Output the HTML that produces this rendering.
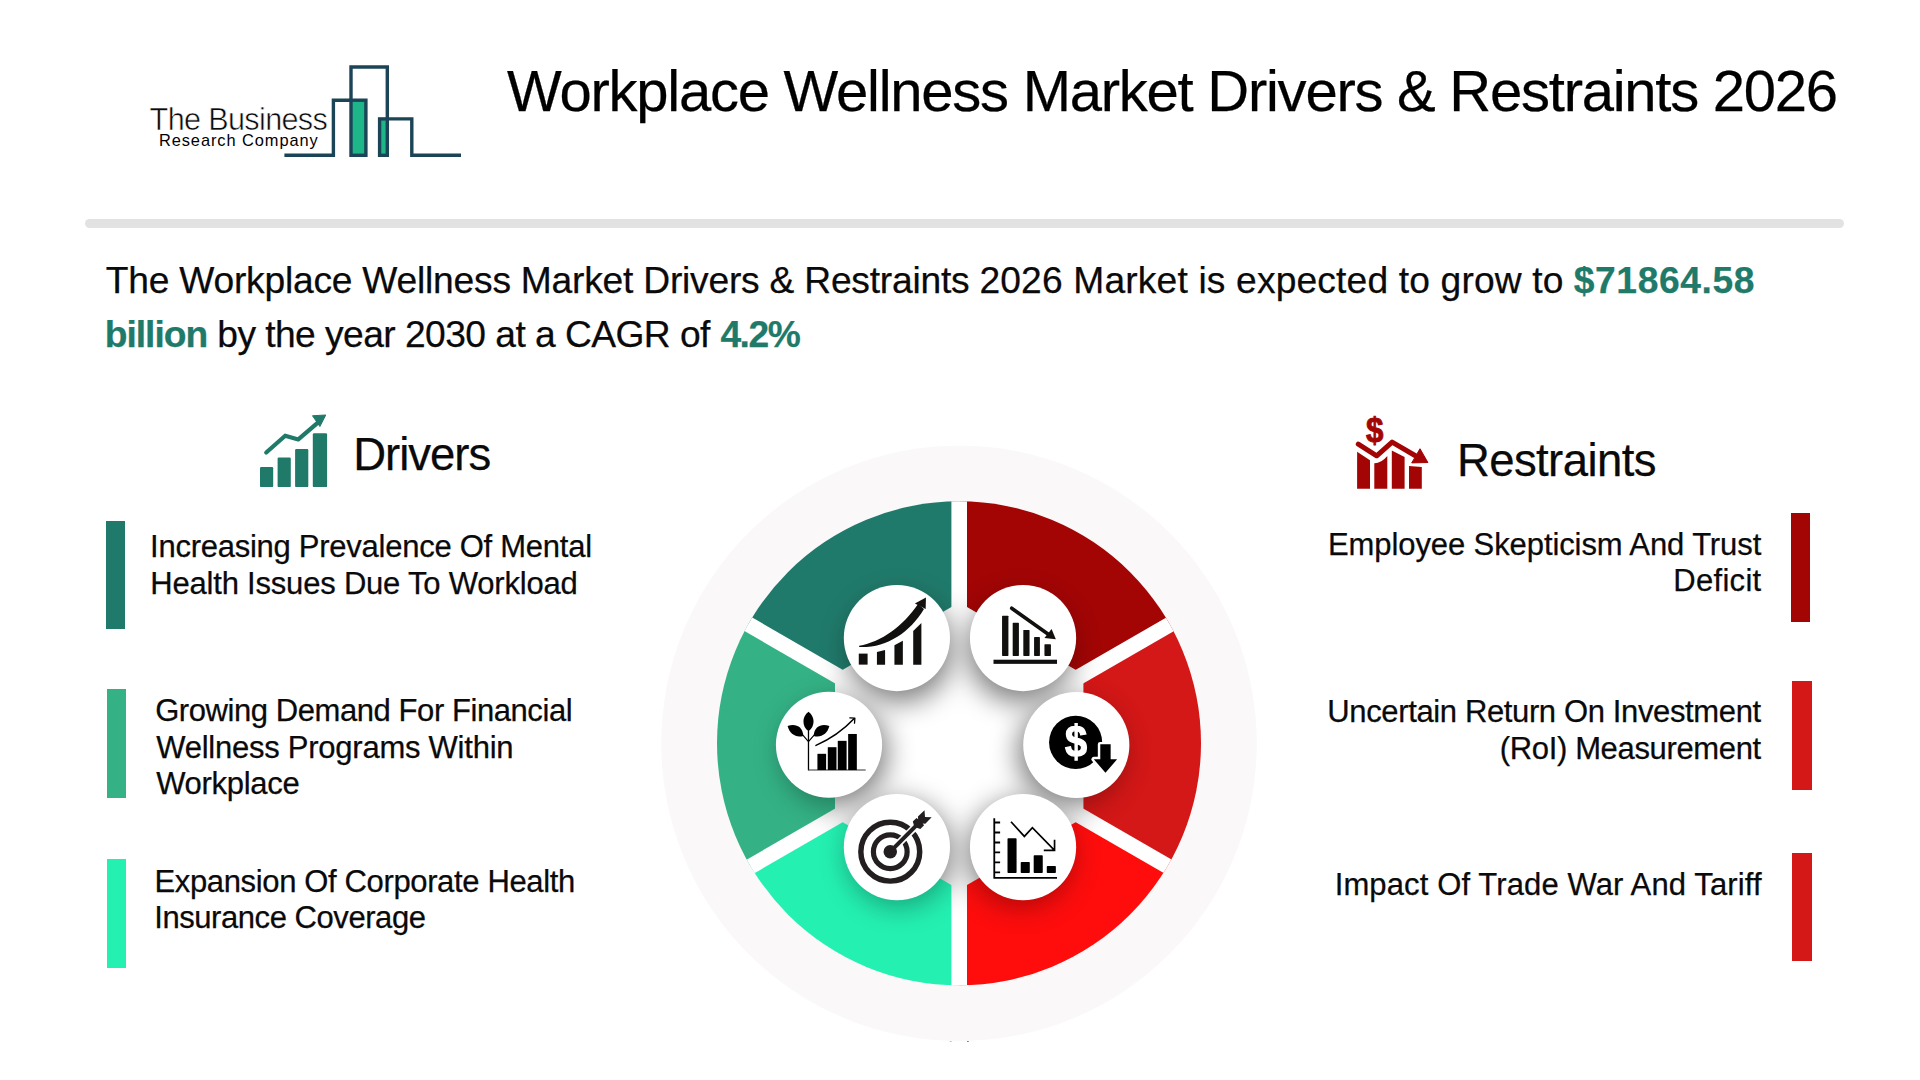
<!DOCTYPE html>
<html lang="en">
<head>
<meta charset="utf-8">
<title>Workplace Wellness Market Drivers &amp; Restraints 2026</title>
<style>
html,body{margin:0;padding:0;background:#fff}
body{width:1920px;height:1080px;position:relative;overflow:hidden;font-family:"Liberation Sans",sans-serif}
h1,h2,p,ul,li{margin:0;padding:0;list-style:none}
.t{position:absolute;display:block;white-space:pre;line-height:1;font-weight:400;-webkit-text-stroke:.25px currentColor}
.t b{font-weight:700}
.rule{position:absolute;left:85px;top:218.7px;width:1759px;height:9.4px;border-radius:5px;background:#e2e2e2}
.bar{position:absolute;display:block;width:19.2px;height:108.6px}
svg{position:absolute;left:0;top:0;overflow:visible}
</style>
</head>
<body>
<header>
<svg width="1920" height="200" viewBox="0 0 1920 200">
<g fill="none" stroke="#1b4557" stroke-width="3.4" stroke-linejoin="miter" stroke-linecap="butt">
<rect x="351" y="100.2" width="14.9" height="55.1" fill="#1eb589"/>
<rect x="379.6" y="118.9" width="7.7" height="36.4" fill="#1eb589"/>
<path d="M284.4 155.3H333.4V100.2H351"/>
<path d="M351 100.2V67H387.3V118.9"/>
<path d="M387.3 118.9H411.8V155.3H461"/>
</g>
<text x="149.6" y="129.9" font-family="'Liberation Sans',sans-serif" font-size="30.6" fill="#0a0a0a" stroke="#fff" stroke-width=".55" textLength="178.2" lengthAdjust="spacing">The Business</text>
<text x="158.9" y="146.25" font-family="'Liberation Sans',sans-serif" font-size="16.4" fill="#000" textLength="158.9" lengthAdjust="spacing">Research Company</text>
</svg>

<h1 class="t" style="left:507.00px;top:61.90px;font-size:58px;letter-spacing:-1.249px;color:#000">Workplace Wellness Market Drivers &amp; Restraints 2026</h1>
</header>
<div class="rule"></div>
<p class="summary">
<span class="t" style="left:105.75px;top:261.51px;font-size:37.2px;letter-spacing:-0.223px;color:#0a0a0a">The Workplace Wellness Market Drivers &amp; Restraints</span>
<span class="t" style="left:979.45px;top:261.51px;font-size:37.2px;letter-spacing:0.161px;color:#0a0a0a">2026 Market is expected to grow to</span>
<span class="t" style="left:1573.75px;top:261.51px;font-size:37.2px;letter-spacing:0.613px;color:#0a0a0a"><b style="color:#1f7a6a">$71864.58</b></span>
<span class="t" style="left:104.65px;top:316.11px;font-size:37.2px;letter-spacing:-0.967px;color:#0a0a0a"><b style="color:#1f7a6a">billion</b></span>
<span class="t" style="left:217.25px;top:316.11px;font-size:37.2px;letter-spacing:-0.550px;color:#0a0a0a">by the year 2030 at a CAGR of</span>
<span class="t" style="left:720.40px;top:316.11px;font-size:37.2px;letter-spacing:-1.467px;color:#0a0a0a"><b style="color:#1f7a6a">4.2%</b></span>
</p>
<svg width="1920" height="1080" viewBox="0 0 1920 1080">
<g fill="#207a6a" stroke="#207a6a">
<g stroke="none"><rect x="260" y="467.1" width="13.2" height="20" rx="1.2"/><rect x="277.6" y="457.6" width="13.2" height="29.5" rx="1.2"/>
<rect x="295.1" y="449.1" width="13.2" height="38" rx="1.2"/><rect x="312.8" y="433.2" width="14.3" height="53.9" rx="1.2"/></g>
<path d="M266.25 452.5L285.2 435.7L298.3 439.4L318.75 421.9" fill="none" stroke-width="4.2" stroke-linecap="round" stroke-linejoin="round"/>
<path d="M312.5 415.75L325.75 415L319.9 426.5Z" stroke-width="1" stroke-linejoin="round"/>
</g>
<g fill="#a30505" stroke="#a30505">
<g stroke="none"><path d="M1357.1 451.8L1370 460.2V488.75H1357.1Z"/><path d="M1374.3 463.3Q1381 463.5 1387.3 456V488.75H1374.3Z"/>
<path d="M1391.8 450.4L1404.6 457.1V488.75H1391.8Z"/><path d="M1409 466L1421.8 467.1V488.75H1409Z"/></g>
<path d="M1358.3 444.2L1376.7 455.8L1392.1 442.1L1415 455.5" fill="none" stroke-width="5" stroke-linecap="round" stroke-linejoin="round"/>
<path d="M1420 448.75L1427.9 462.5L1411.7 462.9Z" stroke-width="1" stroke-linejoin="round"/>
<text transform="translate(1374.7 441.8) scale(.88 1)" x="0" y="0" font-family="'Liberation Sans',sans-serif" font-weight="700" font-size="35.5" text-anchor="middle" stroke="#a30505" stroke-width="1">$</text>
</g>
</svg>

<section class="drivers">
<h2 class="t" style="left:353.20px;top:431.98px;font-size:45.5px;letter-spacing:-1.000px;color:#0a0a0a">Drivers</h2>
<ul>
<li><i class="bar" style="left:105.5px;top:520.8px;background:#207a6b"></i><span class="t" style="left:150.05px;top:530.66px;font-size:31px;letter-spacing:-0.257px;color:#0a0a0a">Increasing Prevalence Of Mental</span><span class="t" style="left:150.30px;top:567.66px;font-size:31px;letter-spacing:-0.202px;color:#0a0a0a">Health Issues Due To Workload</span></li>
<li><i class="bar" style="left:106.9px;top:689.1px;background:#34b286"></i><span class="t" style="left:155.20px;top:695.36px;font-size:31px;letter-spacing:-0.430px;color:#0a0a0a">Growing Demand For Financial</span><span class="t" style="left:156.20px;top:731.66px;font-size:31px;letter-spacing:-0.243px;color:#0a0a0a">Wellness Programs Within</span><span class="t" style="left:156.20px;top:767.86px;font-size:31px;letter-spacing:-0.300px;color:#0a0a0a">Workplace</span></li>
<li><i class="bar" style="left:106.9px;top:859.4px;background:#24f0b2"></i><span class="t" style="left:154.50px;top:865.66px;font-size:31px;letter-spacing:-0.361px;color:#0a0a0a">Expansion Of Corporate Health</span><span class="t" style="left:154.25px;top:901.56px;font-size:31px;letter-spacing:-0.438px;color:#0a0a0a">Insurance Coverage</span></li>
</ul>
</section>
<section class="restraints">
<h2 class="t" style="left:1456.90px;top:438.48px;font-size:45.5px;letter-spacing:-0.583px;color:#0a0a0a">Restraints</h2>
<ul>
<li><i class="bar" style="left:1791.2px;top:513.1px;background:#a30505"></i><span class="t" style="left:1328.00px;top:528.76px;font-size:31px;letter-spacing:-0.095px;color:#0a0a0a">Employee Skepticism And Trust</span><span class="t" style="left:1673.20px;top:564.66px;font-size:31px;letter-spacing:0.317px;color:#0a0a0a">Deficit</span></li>
<li><i class="bar" style="left:1792.4px;top:681.3px;background:#d41717"></i><span class="t" style="left:1327.35px;top:696.46px;font-size:31px;letter-spacing:-0.371px;color:#0a0a0a">Uncertain Return On Investment</span><span class="t" style="left:1499.75px;top:733.36px;font-size:31px;letter-spacing:-0.353px;color:#0a0a0a">(RoI) Measurement</span></li>
<li><i class="bar" style="left:1792.4px;top:852.6px;background:#d41717"></i><span class="t" style="left:1334.65px;top:868.96px;font-size:31px;letter-spacing:0.126px;color:#0a0a0a">Impact Of Trade War And Tariff</span></li>
</ul>
</section>
<svg width="1920" height="1080" viewBox="0 0 1920 1080">
<defs>
<clipPath id="ring"><circle cx="959" cy="743.3" r="242"/></clipPath>
<filter id="sh" x="-60%" y="-60%" width="220%" height="220%"><feGaussianBlur stdDeviation="14"/></filter>
<path id="wedge" d="M0 0L346.4 -200L470 0L346.4 200Z"/>
<mask id="shm" maskUnits="userSpaceOnUse" x="600" y="400" width="720" height="680">
<rect x="600" y="400" width="720" height="680" fill="#fff"/>
<g clip-path="url(#ring)"><g transform="translate(959.2 746)"><circle r="320" fill="#a0a0a0"/>
<g stroke="#fff" stroke-width="15.6"><path d="M0 -400V400"/><path d="M-346.4 -200L346.4 200"/><path d="M-346.4 200L346.4 -200"/></g>
<path fill="#fff" d="M0 -143.4L124.2 -71.7V71.7L0 143.4L-124.2 71.7V-71.7Z"/></g></g>
</mask>
</defs>
<circle cx="959" cy="743.35" r="297.7" fill="#faf8f8"/>
<rect x="949.8" y="1041" width="1.8" height="1" fill="#5fe9bf"/><rect x="967" y="1041" width="1.8" height="1" fill="#f05050"/>
<g clip-path="url(#ring)">
<g transform="translate(959.2 746)">
<use href="#wedge" fill="#d41717"/>
<use href="#wedge" fill="#ff0d0d" transform="rotate(60)"/>
<use href="#wedge" fill="#24f0b2" transform="rotate(120)"/>
<use href="#wedge" fill="#34b286" transform="rotate(180)"/>
<use href="#wedge" fill="#207a6b" transform="rotate(240)"/>
<use href="#wedge" fill="#a30505" transform="rotate(300)"/>
<g stroke="#fff" stroke-width="15.6">
<path d="M0 -400V400"/><path d="M-346.4 -200L346.4 200"/><path d="M-346.4 200L346.4 -200"/>
</g>
<path fill="#fff" d="M0 -143.4L124.2 -71.7V71.7L0 143.4L-124.2 71.7V-71.7Z"/>
</g>
</g>
<g fill="#000" opacity=".52" mask="url(#shm)">
<circle cx="899.40" cy="649.05" r="53" filter="url(#sh)"/><circle cx="1020.55" cy="649.05" r="53" filter="url(#sh)"/><circle cx="834.00" cy="752.75" r="53" filter="url(#sh)"/><circle cx="1071.30" cy="753.00" r="53" filter="url(#sh)"/><circle cx="899.40" cy="854.15" r="53" filter="url(#sh)"/><circle cx="1020.55" cy="854.15" r="53" filter="url(#sh)"/>
</g>
<g fill="#fff">
<circle cx="896.9" cy="638.05" r="53.1"/><circle cx="1023.05" cy="638.05" r="53.1"/>
<circle cx="829" cy="744.75" r="53.1"/><circle cx="1076.3" cy="745" r="53.1"/>
<circle cx="896.9" cy="847.15" r="53.1"/><circle cx="1023.05" cy="847.15" r="53.1"/>
</g>
<!-- icon 1: growth -->
<g transform="translate(830 570) scale(.12963)" fill="#12100e">
<rect x="222" y="645" width="68" height="85"/>
<path d="M362 632L425 617V730H362Z"/><path d="M497 580L562 545V730H497Z"/><path d="M642 470L705 408V730H642Z"/>
<path d="M225 585C400 552 560 435 680 262L725 300C615 485 430 603 225 594Z"/>
<path d="M740 212L655 258L738 300Z"/>
</g>
<!-- icon 2: decline bars -->
<g transform="translate(955 570) scale(.12963)" fill="#12100e">
<rect x="363" y="352" width="49" height="311" rx="5"/><rect x="445" y="407" width="48" height="256" rx="5"/>
<rect x="527" y="462" width="48" height="201" rx="5"/><rect x="610" y="517" width="45" height="146" rx="5"/>
<rect x="690" y="572" width="50" height="91" rx="5"/><rect x="297" y="692" width="490" height="32"/>
<path d="M437 295L725 500" stroke="#12100e" stroke-width="28" stroke-linecap="round"/>
<path d="M778 535L745 455L690 525Z"/>
</g>
<!-- icon 3: plant growth -->
<g transform="translate(760 675) scale(.12963)" fill="#000">
<path d="M374 430V735" stroke="#000" stroke-width="10"/><path d="M370 733H815" stroke="#333" stroke-width="9"/>
<path d="M374 284C426 320 426 400 374 433C322 400 322 320 374 284Z"/>
<path d="M213 394C268 372 330 392 334 470C280 487 228 456 213 394Z"/>
<path d="M535 394C480 372 418 392 414 470C468 487 520 456 535 394Z"/>
<path d="M329 462L374 514L419 462" stroke="#000" stroke-width="9" fill="none"/>
<rect x="443" y="608" width="67" height="125"/><rect x="523" y="557" width="67" height="176"/>
<rect x="600" y="508" width="68" height="225"/><rect x="680" y="455" width="67" height="278"/>
<path d="M432 543Q600 470 725 338" stroke="#000" stroke-width="12" fill="none" stroke-linecap="round"/>
<path d="M693 330L732 332L729 372" stroke="#000" stroke-width="10" fill="none" stroke-linecap="round" stroke-linejoin="round"/>
</g>
<!-- icon 4: dollar down -->
<g transform="translate(1005 675) scale(.12963)" fill="#000">
<circle cx="545" cy="520" r="205"/>
<path d="M735 535H815V650H865L775 755L685 650H735Z" stroke="#fff" stroke-width="38" paint-order="stroke" stroke-linejoin="round"/>
<text transform="translate(547 629) scale(.9 1)" font-family="'Liberation Sans',sans-serif" font-weight="700" font-size="340" fill="#fff" stroke="#fff" stroke-width="10" text-anchor="middle">$</text>
</g>
<!-- icon 5: target -->
<g transform="translate(830 780) scale(.12963)" fill="none" stroke="#231f20">
<circle cx="465" cy="553" r="227" stroke-width="42"/><circle cx="465" cy="553" r="130" stroke-width="40"/>
<circle cx="465" cy="553" r="52" fill="#231f20" stroke="none"/>
<path d="M525 493L700 320" stroke="#fff" stroke-width="56"/>
<path d="M465 553L680 337" stroke-width="31"/>
<path d="M729.2 233.6L732.8 284.7L784.2 288.2L735.3 338.2L715 334.7L725.7 350L697.1 378.6L669.3 367.9L647.1 348.9L638.9 320.4L667.5 292.9L680 303.6L678.2 281.1Z" fill="#231f20" stroke="none"/>
</g>
<!-- icon 6: chart down -->
<g transform="translate(955 780) scale(.12963)" fill="#000" stroke="#000" stroke-width="14">
<path d="M303 295V760M297 755H787M303 328H348M303 405H348M303 482H348M303 558H348M303 635H348M303 712H348" fill="none"/>
<g stroke="none"><rect x="405" y="450" width="70" height="267" rx="6"/><rect x="507" y="632" width="70" height="85" rx="6"/>
<rect x="607" y="580" width="70" height="137" rx="6"/><rect x="708" y="663" width="70" height="54" rx="6"/></g>
<path d="M432 322L535 435L597 368L768 543M768 460V543H685" fill="none" stroke-width="13"/>
</g>
</svg>

</body>
</html>
